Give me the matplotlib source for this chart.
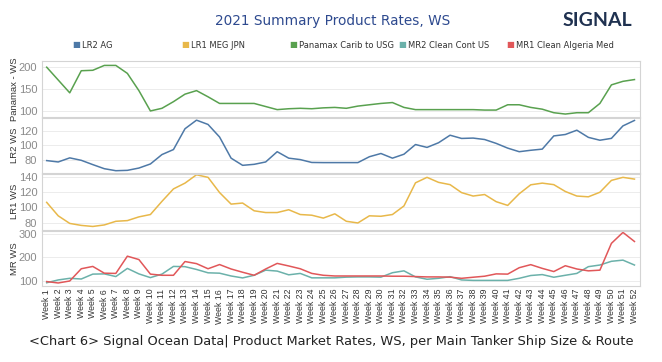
import numpy as np
from matplotlib import pyplot as plt

weeks = [f'Week {i}' for i in range(1, 53)]

panamax = [200, 171, 142, 192, 193, 204, 204, 186, 147, 101,
           107, 122, 139, 147, 133, 118, 118, 118, 118, 111,
           104, 106, 107, 106, 108, 109, 107, 112, 115, 118,
           120, 109, 104, 104, 104, 104, 104, 104, 103, 103,
           115, 115, 109, 105, 97, 94, 97, 97, 118, 160,
           168, 172]
lr2 = [78.6, 76.7, 82.4, 79, 73, 67.3, 64.5, 65, 68.2, 73.9,
       87, 94, 123, 135, 129, 111.5, 82, 72, 73.4, 76.7,
       91, 82, 80, 76, 75.8, 75.8, 75.8, 75.8, 84, 88.5,
       82, 87.5, 101, 97, 103.5, 114, 109.5, 110, 108, 102.6,
       96, 91, 93, 94.6, 113, 115, 121, 111, 107, 109.6,
       127, 134.6]
lr1 = [106.7, 89, 79, 76.4, 75, 77, 81.8, 82.7, 87.6, 90.7,
       108, 124.4, 132, 143, 139.6, 119.6, 104.4, 105.8, 95.6, 93.3,
       93.3, 97, 90.7, 89.8, 86, 91.6, 81.8, 79.6, 89, 88.4,
       90.7, 102, 132.4, 139.6, 133, 130, 119.5, 115, 117, 107.6,
       102.7, 118, 129.8, 132, 130, 121, 115, 114, 120, 135.6,
       139.6, 137.3]
mr2 = [91, 103, 110, 107, 128, 129, 117.5, 152.5, 129, 113,
       128, 161, 160, 148, 133.6, 132, 120, 111.7, 123, 145,
       141, 125, 131, 112, 112, 112, 115, 116, 116, 115,
       134, 142, 116, 106, 110, 117, 103, 101, 101, 101,
       101, 110, 122, 126, 114.6, 123, 131, 160, 167, 183,
       188, 167]
mr1 = [96, 90, 98.5, 151, 161, 132, 131, 205, 190.5, 128,
       123, 123, 182, 173, 151, 169, 150, 136, 123, 150,
       174, 163, 151, 131, 123, 120, 120, 120, 120, 120,
       119, 119, 117.5, 116, 116, 115, 110, 114.6, 119, 129,
       128, 155.5, 168.6, 152.6, 139, 164, 150, 142, 145, 260,
       307, 268]

c_lr2 = '#4e79a7'
c_lr1 = '#e8b84a'
c_pmx = '#59a14f'
c_mr2 = '#6bb1aa'
c_mr1 = '#e15759'

small = 'Liberation Sans'
x = np.arange(1, 53)

fig = plt.figure(figsize=(6.62, 3.62), dpi=100)

left, width = 41.5 / 662, (640 - 41.5) / 662
bounds = [(61, 116.7), (118, 172.5), (174, 229.5), (231, 286)]
panels = [
    ('Panamax - WS', [(panamax, c_pmx)], (88, 214), [100, 150, 200]),
    ('LR2 WS', [(lr2, c_lr2)], (62, 138), [80, 100, 120]),
    ('LR1 WS', [(lr1, c_lr1)], (71, 144), [80, 100, 120, 140]),
    ('MR WS', [(mr2, c_mr2), (mr1, c_mr1)], (77, 313), [100, 200, 300]),
]

axes = []
for (top, bot), (lab, series, ylim, ticks) in zip(bounds, panels):
    ax = fig.add_axes([left, 1 - bot / 362, width, (bot - top) / 362])
    for vals, col in series:
        ax.plot(x, vals, color=col, lw=1.1)
    ax.set_ylim(*ylim)
    ax.set_yticks(ticks)
    ax.set_yticklabels([str(t) for t in ticks], family=small)
    ax.set_xlim(0.55, 52.48)
    ax.grid(axis='y', color='#ececec', lw=0.7)
    ax.set_axisbelow(True)
    ax.tick_params(axis='y', length=0, labelsize=8, labelcolor='#8a8a8a', pad=3)
    ax.set_ylabel(lab, fontsize=6.8, color='#333333', family=small)
    ax.yaxis.set_label_coords(-0.038, 0.5)
    for s in ['top', 'bottom', 'right', 'left']:
        ax.spines[s].set_color('#d4d4d4')
        ax.spines[s].set_linewidth(0.8)
    axes.append(ax)

for ax in axes[:-1]:
    ax.set_xticks(x)
    ax.tick_params(axis='x', length=0, labelbottom=False)

axes[-1].set_xticks(x)
axes[-1].set_xticklabels(weeks, rotation=90, fontsize=6.3, color='#333333', family=small)
axes[-1].tick_params(axis='x', length=0, pad=2)

fig.text(0.503, 1 - 21 / 362, '2021 Summary Product Rates, WS', ha='center', va='center',
         fontsize=9.8, color='#2e4a8f')
fig.text(0.903, 1 - 20 / 362, 'SIGNAL', ha='center', va='center', fontsize=14,
         color='#1f3150', family='Lato', fontweight='bold')

legend_items = [('LR2 AG', c_lr2, 76), ('LR1 MEG JPN', c_lr1, 185),
                ('Panamax Carib to USG', c_pmx, 293), ('MR2 Clean Cont US', c_mr2, 402),
                ('MR1 Clean Algeria Med', c_mr1, 510.5)]
for name, col, px in legend_items:
    fig.text(px / 662, 1 - 45 / 362, '\u25a0', color=col, fontsize=6, ha='center', va='center')
    fig.text((px + 6) / 662, 1 - 45 / 362, name, color='#333333', fontsize=6, ha='left', va='center')

fig.text(0.501, 1 - 341 / 362,
         '<Chart 6> Signal Ocean Data| Product Market Rates, WS, per Main Tanker Ship Size & Route',
         ha='center', va='center', fontsize=9.4, color='#222222')

fig.savefig('out.png', dpi=100)
